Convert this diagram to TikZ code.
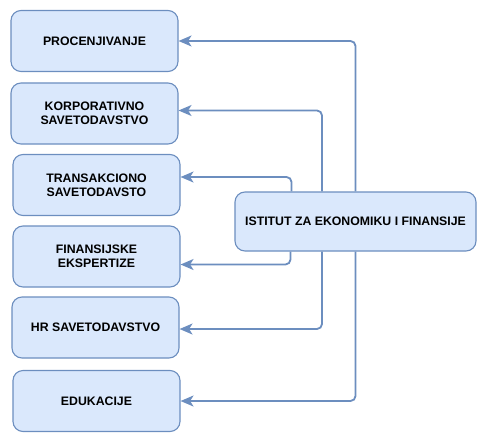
\documentclass[tikz,border=0pt]{standalone}
\usepackage{fontspec}
\setmainfont{Liberation Sans}
\usetikzlibrary{arrows.meta}
\definecolor{boxfill}{HTML}{DAE8FC}
\definecolor{boxline}{HTML}{6C8EBF}
\tikzset{
  unit/.style={draw=boxline, fill=boxfill, line width=1.1pt, rounded corners=10pt,
    minimum width=167pt, minimum height=61pt, align=center, inner sep=2pt,
    font=\bfseries\fontsize{12.3}{14}\selectfont},
  link/.style={draw=boxline, line width=1.8pt, rounded corners=5pt,
    -{Stealth[length=13pt,width=11pt,inset=3.5pt]}}
}
\begin{document}
\begin{tikzpicture}[x=1pt,y=-1pt]
  \useasboundingbox (0,0) rectangle (486,441);

  % units on the left
  \node[unit] (proc) at (94.5,41) {PROCENJIVANJE};
  \node[unit] (korp) at (94.5,113.5) {KORPORATIVNO\\SAVETODAVSTVO};
  \node[unit] (trans) at (96.5,185) {TRANSAKCIONO\\SAVETODAVSTO};
  \node[unit] (fin) at (96.5,256.5) {FINANSIJSKE\\EKSPERTIZE};
  \node[unit] (hr) at (95.5,327.5) {HR SAVETODAVSTVO};
  \node[unit] (edu) at (96.5,401) {EDUKACIJE};

  % the institute
  \node[unit, minimum width=241pt, minimum height=59pt] (inst) at (355.5,221.5)
    {ISTITUT ZA EKONOMIKU I FINANSIJE};

  % links
  \draw[link] (inst.north) |- (proc.east);
  \draw[link] (inst.south) |- (edu.east);
  \draw[link] ([xshift=-33.5pt]inst.north) |- ([yshift=3pt]korp.east);
  \draw[link] ([xshift=-33.5pt]inst.south) |- ([yshift=-1.5pt]hr.east);
  \draw[link] ([xshift=-64pt]inst.north) |- ([yshift=8pt]trans.east);
  \draw[link] ([xshift=-65pt]inst.south) |- ([yshift=-8pt]fin.east);
\end{tikzpicture}
\end{document}
